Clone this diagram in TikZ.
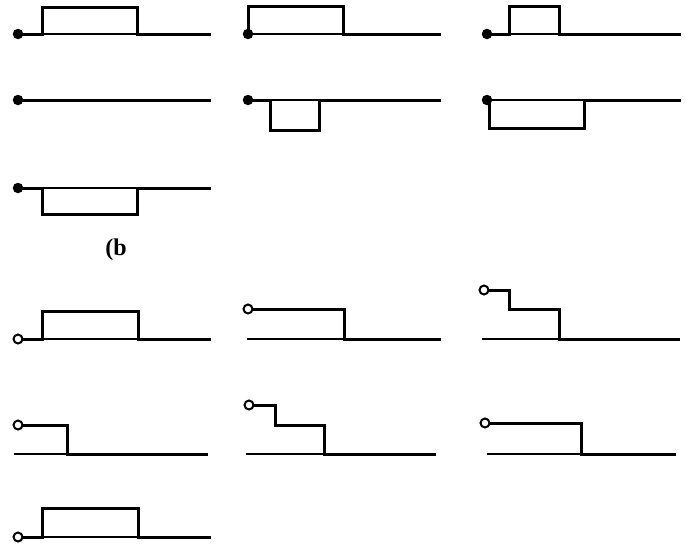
\documentclass[tikz,border=0pt]{standalone}
\usepackage{fontspec}
\setmainfont{Liberation Serif}
\begin{document}
\begin{tikzpicture}[x=1pt,y=-1pt,
  wave/.style={line width=3pt,line join=miter,line cap=rect},
  base/.style={line width=1.3pt},
  fdot/.style={circle,fill=black,inner sep=0pt,minimum size=10.5pt},
  odot/.style={circle,draw=black,fill=white,line width=2pt,inner sep=0pt,minimum size=9pt},
  lbl/.style={font=\fontsize{24}{28}\selectfont\bfseries}]
\useasboundingbox (0,0) rectangle (686,544);
% ---------- upper set (filled dots) ----------
% A11
\draw[base] (42,34) -- (137,34);
\draw[wave] (18,34) -- (42,34) -- (42,7) -- (137,7) -- (137,34) -- (209,34);
\node[fdot] (a11) at (18,34) {};
% A21
\draw[wave] (18,100) -- (209,100);
\node[fdot] (a21) at (18,100) {};
% A31
\draw[base] (42,188) -- (137,188);
\draw[wave] (18,188) -- (42,188) -- (42,214) -- (137,214) -- (137,188) -- (209,188);
\node[fdot] (a31) at (18,188) {};
% A12
\draw[base] (248,34) -- (343,34);
\draw[wave] (248,34) -- (248,6) -- (343,6) -- (343,34) -- (439,34);
\node[fdot] (a12) at (248,34) {};
% A22
\draw[base] (270,100) -- (319,100);
\draw[wave] (248,100) -- (270,100) -- (270,130) -- (319,130) -- (319,100) -- (439,100);
\node[fdot] (a22) at (248,100) {};
% A13
\draw[base] (509,34) -- (559,34);
\draw[wave] (487,34) -- (509,34) -- (509,6) -- (559,6) -- (559,34) -- (679,34);
\node[fdot] (a13) at (487,34) {};
% A23
\draw[base] (489,100) -- (584,100);
\draw[wave] (489,100) -- (489,128) -- (584,128) -- (584,100) -- (679,100);
\node[fdot] (a23) at (487,100) {};
% label
\node[lbl] (lb) at (116,250) {(b};
% ---------- lower set (open circles) ----------
% B11
\draw[base] (42,339) -- (138,339);
\draw[wave] (18,339) -- (42,339) -- (42,311) -- (138,311) -- (138,339) -- (209,339);
\node[odot] (b11) at (18,339) {};
% B21
\draw[base] (14,454) -- (67,454);
\draw[wave] (18,425) -- (67,425) -- (67,454) -- (206,454);
\node[odot] (b21) at (18,425) {};
% B31
\draw[base] (42,537) -- (138,537);
\draw[wave] (18,537) -- (42,537) -- (42,508) -- (138,508) -- (138,537) -- (209,537);
\node[odot] (b31) at (18,537) {};
% B12
\draw[base] (247,339) -- (344,339);
\draw[wave] (248,309) -- (344,309) -- (344,339) -- (439,339);
\node[odot] (b12) at (248,309) {};
% B22
\draw[base] (246,454) -- (324,454);
\draw[wave] (249,405) -- (275,405) -- (275,425) -- (324,425) -- (324,454) -- (434,454);
\node[odot] (b22) at (249,405) {};
% B13
\draw[base] (482,339) -- (559,339);
\draw[wave] (484,290) -- (509,290) -- (509,309) -- (559,309) -- (559,339) -- (678,339);
\node[odot] (b13) at (484,290) {};
% B23
\draw[base] (487,454) -- (581,454);
\draw[wave] (485,423) -- (581,423) -- (581,454) -- (674,454);
\node[odot] (b23) at (485,423) {};
\end{tikzpicture}
\end{document}
